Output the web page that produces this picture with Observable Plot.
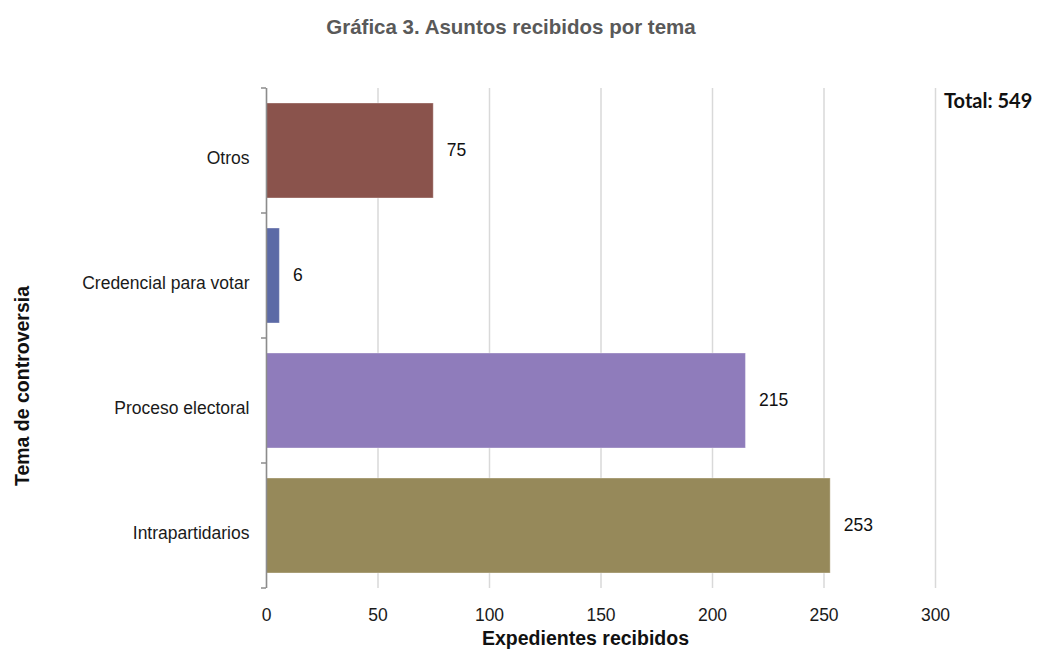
<!DOCTYPE html>
<html>
<head>
<meta charset="utf-8">
<script src="https://cdn.jsdelivr.net/npm/d3@7"></script>
<script src="https://cdn.jsdelivr.net/npm/@observablehq/plot@0.6"></script>
<style>
  html, body { margin: 0; padding: 0; background: #fff; }
  #chart { width: 1038px; height: 653px; }
</style>
</head>
<body>
<div id="chart"></div>
<script>
const categories = ["Otros", "Credencial para votar", "Proceso electoral", "Intrapartidarios"];
const values = [75, 6, 215, 253];
const colors = ["#8a534c", "#5c6aa6", "#8f7cbb", "#96895a"];
const xTicks = [0, 50, 100, 150, 200, 250, 300];
const titleText = "Gráfica 3. Asuntos recibidos por tema";
const xLabel = "Expedientes recibidos";
const yLabel = "Tema de controversia";
const totalText = "Total: 549";

const data = categories.map((c, i) => ({cat: c, value: values[i], color: colors[i]}));

const W = 1038, H = 653;
const plot = Plot.plot({
  width: W,
  height: H,
  marginLeft: 266,
  marginRight: 103,
  marginTop: 88,
  marginBottom: 65,
  style: {fontFamily: "'Liberation Sans', Arial, sans-serif", fontSize: "17px", color: "#1a1a1a", background: "#fff"},
  x: {domain: [0, 300], ticks: xTicks},
  y: {domain: categories, paddingInner: 0.24, paddingOuter: 0.12, align: 0.5},
  marks: [
    Plot.gridX(xTicks, {stroke: "#d9d9d9", strokeOpacity: 1, strokeWidth: 1.5}),
    Plot.barX(data, {x: "value", y: "cat", fill: "color", stroke: "#ffffff", strokeOpacity: 0.35, strokeWidth: 1, inset: 0}),
    Plot.ruleX([0], {stroke: "#8c8c8c", strokeWidth: 1.5}),
    Plot.axisX(xTicks, {tickSize: 0, tickPadding: 20, fontSize: 17.5, fill: "#1a1a1a", label: null}),
    Plot.axisY({tickSize: 0, tickPadding: 17, fontSize: 17.5, fill: "#1a1a1a", dy: 7, label: null}),
    Plot.text(data, {x: "value", y: "cat", text: d => String(d.value), textAnchor: "start", dx: 13, dy: -1, fontSize: 17.5, fill: "#111"})
  ]
});

const svg = d3.select(plot);
const ys = plot.scale("y");
// band-boundary ticks on the left axis
const half = (ys.step - ys.bandwidth) / 2;
const bounds = categories.map(c => ys.apply(c) - half);
bounds.push(ys.apply(categories[categories.length - 1]) + ys.bandwidth + half);
const x0 = plot.scale("x").apply(0);
svg.append("g").selectAll("line").data(bounds).join("line")
  .attr("x1", x0 - 5).attr("x2", x0).attr("y1", d => d).attr("y2", d => d)
  .attr("stroke", "#8c8c8c").attr("stroke-width", 1.5);

svg.append("text").text(titleText)
  .attr("x", 511).attr("y", 34).attr("text-anchor", "middle")
  .attr("font-family", "'Liberation Sans', Arial, sans-serif")
  .attr("font-weight", "bold").attr("font-size", 20.5).attr("fill", "#595959");

svg.append("text").text(totalText)
  .attr("x", 944).attr("y", 108).attr("text-anchor", "start")
  .attr("font-family", "Lato, 'Open Sans', sans-serif")
  .attr("font-weight", "bold").attr("font-size", 20).attr("fill", "#111");

const xr = plot.scale("x").range;
svg.append("text").text(xLabel)
  .attr("x", (xr[0] + xr[1]) / 2 - 15).attr("y", 645)
  .attr("text-anchor", "middle")
  .attr("font-weight", "bold").attr("font-size", 19.5).attr("fill", "#111");

svg.append("text").text(yLabel)
  .attr("transform", "translate(29,386) rotate(-90)")
  .attr("text-anchor", "middle")
  .attr("font-weight", "bold").attr("font-size", 19.5).attr("fill", "#111");

document.getElementById("chart").appendChild(plot);
</script>
</body>
</html>
